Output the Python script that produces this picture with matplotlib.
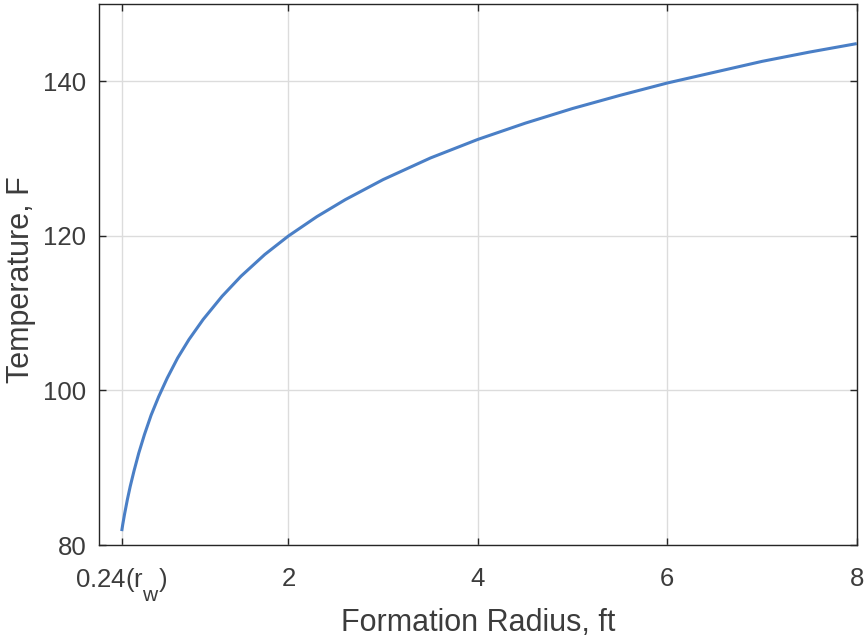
import matplotlib
matplotlib.use("Agg")
import matplotlib.pyplot as plt

try:
    import matplotlib._mathtext as _mt
    _mt.SHRINK_FACTOR = 0.82
    _mt.FontConstantsBase.sub1 = 0.95
except Exception:
    pass

# Data
radius_ft = [0.24, 0.25, 0.27, 0.30, 0.33, 0.37, 0.42, 0.48, 0.55, 0.63, 0.72,
             0.83, 0.95, 1.1, 1.3, 1.5, 1.75, 2.0, 2.3, 2.6, 3.0, 3.5, 4.0,
             4.5, 5.0, 5.5, 6.0, 6.5, 7.0, 7.5, 8.0]
temperature_F = [81.8, 82.6, 84.0, 85.9, 87.6, 89.6, 91.9, 94.3, 96.8, 99.2, 101.6,
                 104.2, 106.6, 109.2, 112.2, 114.8, 117.6, 120.0, 122.5, 124.7,
                 127.3, 130.1, 132.5, 134.6, 136.5, 138.2, 139.8, 141.2, 142.6,
                 143.8, 144.9]
x_ticks = [0.24, 2, 4, 6, 8]
x_ticklabels = [r"0.24(r$_\mathregular{w}$)", "2", "4", "6", "8"]
y_ticks = [80, 100, 120, 140]

plt.rcParams['font.family'] = ['Liberation Sans', 'DejaVu Sans']
plt.rcParams['mathtext.fontset'] = 'custom'
plt.rcParams['mathtext.rm'] = 'Liberation Sans'

fig = plt.figure(figsize=(8.66, 6.37), dpi=100)
ax = fig.add_axes([0.1143, 0.1444, 0.875, 0.849])

ax.plot(radius_ft, temperature_F, color='#4a7fc6', linewidth=2.2,
        solid_capstyle='butt')

ax.set_xlim(0, 8)
ax.set_ylim(80, 150)
ax.set_xticks(x_ticks)
ax.set_xticklabels(x_ticklabels)
ax.set_yticks(y_ticks)

txt = '#3c3c3c'
ax.tick_params(direction='in', top=True, right=True, length=5, width=1.0,
               labelsize=18.5, colors='#262626', labelcolor=txt)
ax.tick_params(axis='x', pad=15.5)
ax.tick_params(axis='y', pad=9)
ax.grid(True, color='#dcdcdc', linewidth=1.0)
ax.set_axisbelow(True)
for s in ax.spines.values():
    s.set_color('#262626')
    s.set_linewidth(1.0)

ax.set_xlabel("Formation Radius, ft", fontsize=22, color=txt,
              va='baseline', ha='center')
ax.xaxis.set_label_coords(0.5, -0.159)
ax.set_ylabel("Temperature, F", fontsize=22, color=txt,
              va='center', ha='center')
ax.yaxis.set_label_coords(-0.1035, 0.49)

fig.savefig("out.png", dpi=100)
